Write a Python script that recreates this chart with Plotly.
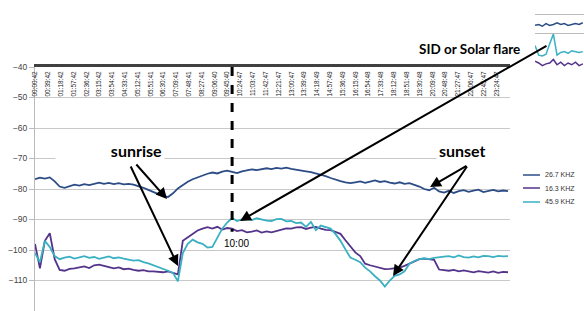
import plotly.graph_objects as go

# ---------------- data ----------------
hours = [
    0.0, 0.25, 0.5, 0.75, 1.0, 1.25, 1.5, 1.75, 2.0, 2.25, 2.5, 2.75,
    3.0, 3.25, 3.5, 3.75, 4.0, 4.25, 4.5, 4.75, 5.0, 5.25, 5.5, 5.75,
    6.0, 6.25, 6.5, 6.75, 7.0, 7.25, 7.5, 7.75, 8.0, 8.25, 8.5, 8.75,
    9.0, 9.25, 9.5, 9.75, 10.0, 10.25, 10.5, 10.75, 11.0, 11.25, 11.5, 11.75,
    12.0, 12.25, 12.5, 12.75, 13.0, 13.25, 13.5, 13.75, 14.0, 14.25, 14.5, 14.75,
    15.0, 15.25, 15.5, 15.75, 16.0, 16.25, 16.5, 16.75, 17.0, 17.25, 17.5, 17.75,
    18.0, 18.25, 18.5, 18.75, 19.0, 19.25, 19.5, 19.75, 20.0, 20.25, 20.5, 20.75,
    21.0, 21.25, 21.5, 21.75, 22.0, 22.25, 22.5, 22.75, 23.0, 23.25, 23.5, 23.75,
    24.0,
]

khz_26_7 = [
    -76.8, -76.3, -76.6, -76.2, -77.5, -79.2, -79.6, -79.0, -78.6, -78.9, -78.4, -78.7,
    -78.2, -77.9, -78.3, -78.0, -78.4, -78.1, -78.5, -78.3, -78.6, -79.0, -79.6, -80.3,
    -81.0, -81.8, -82.3, -82.6, -81.4, -79.8, -78.6, -77.6, -76.8, -76.2, -75.5, -75.0,
    -74.6, -74.9, -74.3, -74.0, -74.4, -74.8, -74.2, -73.9, -73.6, -73.8, -73.4, -73.2,
    -73.5, -73.1, -73.3, -73.0, -73.4, -73.6, -73.9, -74.2, -74.5, -74.9, -75.3, -75.8,
    -76.4, -77.0, -77.4, -77.8, -78.1, -77.8, -77.5, -78.0, -77.6, -77.2, -77.7, -77.4,
    -77.9, -78.2, -77.8, -78.3, -78.1, -78.6, -79.2, -80.0, -80.4, -79.6, -80.8, -81.2,
    -80.6, -81.3, -80.7, -80.4, -80.9, -80.5, -80.2, -81.0, -80.6, -80.3, -80.8, -80.5,
    -80.7,
]

khz_16_3 = [
    -98.0, -106.0, -97.0, -94.5, -103.0, -106.5, -106.8, -106.2, -106.0, -105.6, -105.4, -105.9,
    -105.0, -104.8, -105.3, -105.6, -106.0, -105.7, -106.3, -106.1, -106.5, -106.8, -106.6, -107.0,
    -107.0, -107.2, -107.3, -107.0, -107.5, -108.0, -97.0, -95.8, -94.5, -93.6, -93.0, -92.5,
    -93.0, -92.4, -93.3, -92.8, -93.0, -93.8, -93.5, -94.2, -94.0, -93.6, -94.3, -93.9,
    -94.2, -93.8, -93.5, -92.9, -93.0, -92.6, -92.5, -93.1, -92.7, -92.4, -93.0, -93.4,
    -93.5, -94.2, -94.7, -96.8, -99.0, -100.8, -102.0, -104.5, -105.0, -105.4, -106.0, -106.3,
    -106.2, -106.0, -105.8, -105.2, -104.5, -103.6, -103.0, -102.8, -103.0, -103.2, -106.4, -106.6,
    -106.8, -106.5, -107.0, -106.7, -107.0, -107.3, -106.9, -107.2, -107.4, -107.0, -107.5, -107.2,
    -107.3,
]

khz_45_9 = [
    -101.0, -104.0, -97.0, -99.0, -102.0, -103.0, -102.5, -102.2, -102.8, -102.4, -102.0, -102.6,
    -102.3, -102.9, -102.5, -102.1, -102.7, -102.4, -102.8, -103.2, -103.5, -103.3, -104.0, -104.4,
    -105.0, -105.6, -106.0, -106.8, -107.5, -110.3, -101.0, -98.0, -96.6, -97.5, -98.0, -99.2,
    -99.0, -96.0, -93.0, -91.0, -89.5, -90.5, -90.0, -89.8, -90.2, -89.6, -90.0, -90.4,
    -90.5, -89.9, -89.8, -90.6, -90.5, -91.2, -91.0, -92.4, -90.8, -93.5, -92.0, -92.6,
    -93.0, -94.8, -97.0, -99.8, -102.5, -103.2, -104.0, -105.8, -107.0, -108.6, -110.0, -112.0,
    -110.0, -108.5, -108.0, -107.0, -104.5, -103.6, -103.0, -102.7, -103.0, -102.6, -102.5, -102.2,
    -102.0, -102.4, -101.8, -102.3, -102.5, -102.1, -102.4, -101.9, -102.0, -102.3, -101.9, -102.1,
    -102.0,
]

tick_labels = [
    "00:00:42", "00:39:42", "01:18:42", "01:57:42", "02:36:42", "03:15:42", "03:54:41",
    "04:33:41", "05:12:41", "05:51:41", "06:30:41", "07:09:41", "07:48:41", "08:27:41",
    "09:06:40", "09:45:40", "10:24:47", "11:03:47", "11:42:47", "12:21:47", "13:00:47",
    "13:39:49", "14:18:49", "14:57:49", "15:36:49", "16:15:49", "16:54:48", "17:33:48",
    "18:12:48", "18:51:48", "19:30:48", "20:09:48", "20:48:48", "21:27:47", "22:06:47",
    "22:45:47", "23:24:47",
]

series_names = ["26.7 KHZ", "16.3 KHZ", "45.9 KHZ"]
series_colors = ["#2C4C86", "#54338A", "#3AB0C2"]

flare_hour = 10.0
flare_label = "10:00"

# inset fragment (top-right corner of the picture)
inset_x = [0, 3, 6, 9, 12, 15, 18, 21, 24, 27, 30, 33, 36, 39]
inset_blue = [-69, -68, -70, -67, -69, -68, -66, -68, -67, -69, -68, -67, -68, -66]
inset_teal = [-92, -103, -104, -102, -90, -79, -103, -100, -99, -101, -98, -99, -100, -99]
inset_purple = [-110, -112, -115, -113, -112, -108, -114, -111, -115, -112, -114, -111, -115, -113]


def to_hours(s):
    h, m, sec = (int(v) for v in s.split(":"))
    return h + m / 60 + sec / 3600


tick_vals = [to_hours(s) for s in tick_labels]

# ---------------- geometry helpers (pixel -> paper) ----------------
W, H = 584, 311
ML = 35


def px(x):
    return (x - ML) / (W - ML)


def py(y):
    return (H - y) / H


fig = go.Figure()
for name, vals, col in zip(series_names, [khz_26_7, khz_16_3, khz_45_9], series_colors):
    fig.add_trace(go.Scatter(x=hours, y=vals, mode="lines", name=name, showlegend=False,
                             line=dict(color=col, width=1.8), xaxis="x", yaxis="y"))

# invisible trace on a helper subplot whose x axis carries the time labels just below the top line
fig.add_trace(go.Scatter(x=[tick_vals[0], tick_vals[-1]], y=[0, 0], mode="lines",
                         line=dict(width=0), showlegend=False, hoverinfo="skip",
                         xaxis="x3", yaxis="y3"))

fig.add_trace(go.Scatter(x=inset_x, y=inset_blue, mode="lines", showlegend=False,
                         line=dict(color=series_colors[0], width=1.5), xaxis="x2", yaxis="y2"))
fig.add_trace(go.Scatter(x=inset_x, y=inset_teal, mode="lines", showlegend=False,
                         line=dict(color=series_colors[2], width=1.5), xaxis="x2", yaxis="y2"))
fig.add_trace(go.Scatter(x=inset_x, y=inset_purple, mode="lines", showlegend=False,
                         line=dict(color=series_colors[1], width=1.5), xaxis="x2", yaxis="y2"))

fig.update_layout(
    width=W, height=H,
    margin=dict(l=ML, r=0, t=0, b=0, autoexpand=False),
    paper_bgcolor="white", plot_bgcolor="rgba(0,0,0,0)",
    font=dict(family="Liberation Sans, Arial, sans-serif", color="#333"),
    xaxis=dict(domain=[0, px(510)], range=[0, 24.1], side="top",
               showticklabels=False, ticks="",
               showline=True, linecolor="#404040", linewidth=3,
               showgrid=False, zeroline=False, anchor="y"),
    yaxis=dict(domain=[0, py(67)], range=[-120, -40], dtick=10,
               tickfont=dict(size=8.5, color="#444"),
               ticks="outside", ticklen=5, tickcolor="#BBBBBB",
               showline=True, linecolor="#BBBBBB", linewidth=1,
               gridcolor="#C8C8C8", gridwidth=1, zeroline=False, anchor="x"),
    xaxis3=dict(domain=[0, px(510)], range=[0, 24.1], side="bottom", anchor="y3",
                tickmode="array", tickvals=tick_vals, ticktext=tick_labels,
                tickangle=-90, ticks="", ticklen=0,
                tickfont=dict(size=6.5, color="#222"),
                showline=False, showgrid=False, zeroline=False),
    yaxis3=dict(domain=[py(69), py(66)], range=[-1, 1], visible=False, anchor="x3"),
    xaxis2=dict(domain=[px(535), 1.0], range=[0, 40], showticklabels=False,
                showgrid=False, zeroline=False, showline=False, anchor="y2"),
    yaxis2=dict(domain=[py(70), 1.0], range=[-120, -40], showticklabels=False,
                tickmode="array", tickvals=[-57, -78], showgrid=True,
                gridcolor="#BBBBBB", zeroline=False, showline=False, anchor="x2"),
    showlegend=False,
)

# manual legend at the right edge
legend_rows = [175, 188, 202]
for name, col, ry in zip(series_names, series_colors, legend_rows):
    fig.add_shape(type="line", xref="paper", yref="paper", x0=px(523), x1=px(540),
                  y0=py(ry), y1=py(ry), line=dict(color=col, width=1.5))
    fig.add_annotation(x=px(543), y=py(ry), xref="paper", yref="paper", text=name,
                       xanchor="left", yanchor="middle", showarrow=False,
                       font=dict(size=7, color="#333"))

# dashed flare marker
fig.add_shape(type="line", xref="x", yref="y", x0=flare_hour, x1=flare_hour,
              y0=-40, y1=-94, line=dict(color="black", width=3, dash="dash"))

bold = dict(family="Lato, 'Open Sans', sans-serif", color="black")
fig.add_annotation(x=px(236), y=py(243), xref="paper", yref="paper", text=flare_label,
                   xanchor="center", yanchor="middle",
                   showarrow=False, font=dict(size=10, color="black"))
# white text boxes (they hide the -70 gridline behind them, as in the original)
fig.add_annotation(x=px(55), y=py(150), xref="paper", yref="paper", text="<b>sunrise</b>",
                   xanchor="left", yanchor="middle", width=104, align="right",
                   bgcolor="white", borderpad=2,
                   showarrow=False, font=dict(size=16, **bold))
fig.add_annotation(x=px(436), y=py(150), xref="paper", yref="paper", text="<b>sunset</b>",
                   xanchor="left", yanchor="middle", width=72, align="left",
                   bgcolor="white", borderpad=2,
                   showarrow=False, font=dict(size=16, **bold))
fig.add_annotation(x=px(469), y=py(49), xref="paper", yref="paper", text="<b>SID or Solar flare</b>",
                   xanchor="center", yanchor="middle",
                   showarrow=False, font=dict(size=13.5, **bold))

arrows = [
    ((167, 199), (135, 163)),
    ((178, 266), (130, 165)),
    ((430, 187), (468, 165)),
    ((393, 276), (468, 165)),
    ((240, 221), (548, 45)),
]
for (hx, hy), (tx, ty) in arrows:
    fig.add_annotation(x=px(hx), y=py(hy), xref="paper", yref="paper", text="",
                       showarrow=True, arrowhead=2, arrowsize=1.1, arrowwidth=2,
                       arrowcolor="black", ax=tx - hx, ay=ty - hy)

fig.write_html("out.html", config={"displayModeBar": False},
               post_script="document.body.style.margin='0';document.body.style.padding='0';")
